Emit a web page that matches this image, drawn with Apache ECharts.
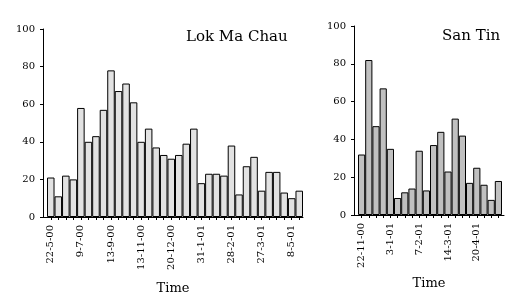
<!DOCTYPE html>
<html>
<head>
<meta charset="utf-8">
<script src="https://cdn.jsdelivr.net/npm/echarts@6/dist/echarts.min.js"></script>
<style>
html,body{margin:0;padding:0;background:#fff;}
#chart{width:531px;height:296px;}
</style>
</head>
<body>
<div id="chart"></div>
<script>
// ---- Data ----
const lokTitle = 'Lok Ma Chau';
const lokTickLabels = ['22-5-00','9-7-00','13-9-00','13-11-00','20-12-00','31-1-01','28-2-01','27-3-01','8-5-01'];
const lokValues = [21,11,22,20,58,40,43,57,78,67,71,61,40,47,37,33,31,33,39,47,18,23,23,22,38,12,27,32,14,24,24,13,10,14];

const stTitle = 'San Tin';
const stTickLabels = ['22-11-00','3-1-01','7-2-01','14-3-01','20-4-01'];
const stValues = [32,82,47,67,35,9,12,14,34,13,37,44,23,51,42,17,25,16,8,18];

const yTicks = [0,20,40,60,80,100];
const xName = 'Time';
const labelEvery = 4;

// ---- Build ----
function buildCats(values, labels){
  return values.map((v,i)=> i % labelEvery === 0 ? (labels[i/labelEvery] || '') : ' '.repeat(i));
}
const FONT = 'DejaVu Serif';
const chart = echarts.init(document.getElementById('chart'), null, {renderer:'canvas'});

function frameAxes(gridIndex){
  return {
    x: {type:'value', gridIndex, min:0, max:1, name:xName, nameLocation:'middle', nameGap:65,
        nameTextStyle:{fontFamily:FONT, fontSize:13, color:'#000'},
        axisLine:{show:true, lineStyle:{color:'#000', width:1}}, axisTick:{show:false},
        axisLabel:{show:false}, splitLine:{show:false}},
    y: {type:'value', gridIndex, min:yTicks[0], max:yTicks[yTicks.length-1], interval:yTicks[1]-yTicks[0],
        axisLine:{show:true, lineStyle:{color:'#000', width:1}},
        axisTick:{show:true, length:3, lineStyle:{color:'#000'}},
        axisLabel:{color:'#000', fontFamily:FONT, fontSize:10, margin:8},
        splitLine:{show:false}}
  };
}
function barAxes(gridIndex, cats){
  return {
    x: {type:'category', gridIndex, data:cats, boundaryGap:true,
        axisLine:{show:false},
        axisTick:{show:true, alignWithLabel:true, interval:0, length:3, lineStyle:{color:'#000'}},
        axisLabel:{interval:labelEvery-1, rotate:90, color:'#000', fontFamily:FONT, fontSize:10, margin:8},
        splitLine:{show:false}},
    y: {type:'value', gridIndex, show:false, min:yTicks[0], max:yTicks[yTicks.length-1]}
  };
}
const f0 = frameAxes(0), b1 = barAxes(1, buildCats(lokValues, lokTickLabels));
const f2 = frameAxes(2), b3 = barAxes(3, buildCats(stValues, stTickLabels));
f2.x.nameGap = 62;

const option = {
  animation:false,
  backgroundColor:'#fff',
  title:[
    {text:lokTitle, left:181, top:25, textStyle:{fontFamily:FONT, fontSize:15, fontWeight:'normal', color:'#000'}},
    {text:stTitle, left:437, top:24, textStyle:{fontFamily:FONT, fontSize:15, fontWeight:'normal', color:'#000'}}
  ],
  grid:[
    {left:43, top:29, width:260, height:188, outerBoundsMode:'none', containLabel:false},
    {left:47, top:29, width:256, height:188, outerBoundsMode:'none', containLabel:false},
    {left:354, top:26, width:150, height:189, outerBoundsMode:'none', containLabel:false},
    {left:358, top:26, width:144, height:189, outerBoundsMode:'none', containLabel:false}
  ],
  xAxis:[f0.x, b1.x, f2.x, b3.x],
  yAxis:[f0.y, b1.y, f2.y, b3.y],
  series:[
    {type:'bar', xAxisIndex:1, yAxisIndex:1, data:lokValues, barWidth:'100%',
     itemStyle:{color:'#e2e2e2', borderColor:'#000', borderWidth:1}},
    {type:'bar', xAxisIndex:3, yAxisIndex:3, data:stValues, barWidth:'100%',
     itemStyle:{color:'#c0c0c0', borderColor:'#000', borderWidth:1}}
  ]
};
chart.setOption(option);
</script>
</body>
</html>
